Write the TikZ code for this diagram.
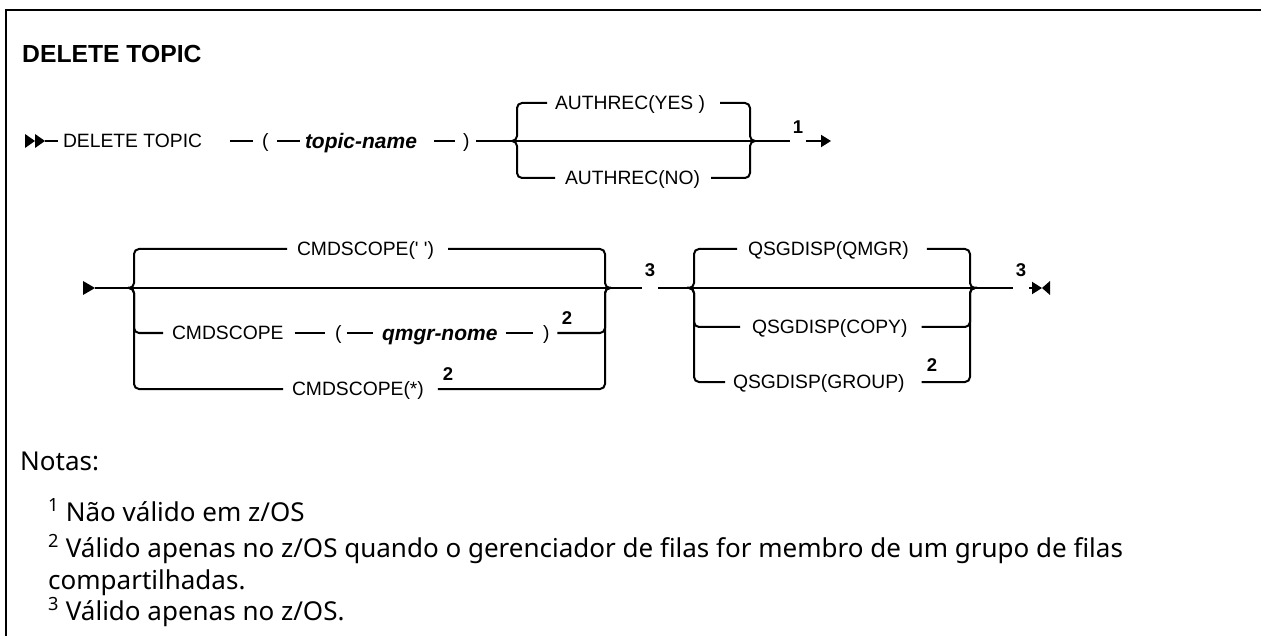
\documentclass[tikz,border=0pt]{standalone}
\usepackage{fontspec}
\setmainfont{Liberation Sans}
\newfontfamily\notefont{Noto Sans}
\usetikzlibrary{arrows.meta, positioning, calc}

\begin{document}
\begin{tikzpicture}[x=1pt, y=-1pt,
    rr/.style={line width=2pt, black},
    kw/.style={font=\fontsize{19.3}{23}\selectfont, anchor=west, inner sep=0pt, outer sep=0pt, text height=13.8pt, text depth=0pt},
    var/.style={kw, font=\fontsize{21}{25}\selectfont\bfseries\itshape, text height=15pt},
    fn/.style={font=\fontsize{18.5}{21}\selectfont\bfseries, inner xsep=3pt, inner ysep=0pt},
    note/.style={font=\notefont\fontsize{26}{31}\selectfont, anchor=base west, inner sep=0pt},
    tipR/.style={-{Triangle[length=10pt, width=12pt]}}
]

% ---------------- canvas and frame ----------------
\useasboundingbox (0,0) rectangle (1261,636);
\fill[white] (0,0) rectangle (1261,636);
\draw[line width=2.5pt] (6,636) -- (6,10) -- (1261,10);

\node[font=\fontsize{24.7}{30}\selectfont\bfseries, anchor=base west, inner sep=0pt] (title) at (22,63) {DELETE TOPIC};

% ================= row 1 =================
\coordinate (s1) at (25,141);
\coordinate (s1e) at (45,141);
\fill (s1) ++(0,-7) -- ++(10,7) -- ++(-10,7) -- cycle;
\fill (s1) ++(10,-7) -- ++(10,7) -- ++(-10,7) -- cycle;

\node[kw] (dt) at (63,141) {DELETE TOPIC};
\node[kw] (lp1) at (262,141) {(};
\node[var] (tn) at (305,141) {topic-name};
\node[kw] (rp1) at (463,141) {)};

\draw[rr, shorten >=5pt] (s1e) -- (dt.west);
\draw[rr, shorten <=28pt, shorten >=9pt] (dt.east) -- (lp1.west);
\draw[rr, shorten <=9pt, shorten >=5pt] (lp1.east) -- (tn.west);
\draw[rr, shorten <=17pt, shorten >=8pt] (tn.east) -- (rp1.west);

% authrec choice
\coordinate (b1l) at (512,141);
\coordinate (b1r) at (755,141);
\node[kw] (ay) at (555,103) {AUTHREC(YES )};
\node[kw] (an) at (565,178) {AUTHREC(NO)};

\draw[rr, shorten <=7pt] (rp1.east) -- (b1l) -- (b1r);
\draw[rr, rounded corners=5pt, shorten >=8pt] (b1l) -| (517,103) -- (ay.west);
\draw[rr, rounded corners=5pt, shorten <=15pt] (ay.east) -| (750,141) -- (b1r);
\draw[rr, rounded corners=5pt, shorten >=10pt] (b1l) -| (517,178) -- (an.west);
\draw[rr, rounded corners=5pt, shorten <=11pt] (an.east) -| (750,141) -- (b1r);

\node[fn] (f1) at (798,127) {1};
\coordinate (e1) at (831,141);
\draw[rr] (b1r) -- (b1r -| f1.west);
\draw[rr, tipR] (b1r -| f1.east) -- (e1);

% ================= row 2 =================
\coordinate (s2) at (83,288);
\coordinate (s2e) at (95,288);
\fill (s2) ++(0,-7) -- ++(12,7) -- ++(-12,7) -- cycle;

% cmdscope choice
\coordinate (b2l) at (128,288);
\coordinate (b2r) at (611,288);
\node[kw] (cq) at (297,249) {CMDSCOPE(\textquotesingle\ \textquotesingle)};
\node[kw] (cm) at (172,333) {CMDSCOPE};
\node[kw] (lp2) at (335,333) {(};
\node[var] (qn) at (382,333) {qmgr-nome};
\node[kw] (rp2) at (543,333) {)};
\node[kw] (cs) at (292,389) {CMDSCOPE(*)};

\draw[rr] (s2e) -- (b2l) -- (b2r);
\draw[rr, rounded corners=5pt, shorten >=10pt] (b2l) -| (134,249) -- (cq.west);
\draw[rr, rounded corners=5pt, shorten <=14pt] (cq.east) -| (605,288) -- (b2r);
\draw[rr, rounded corners=5pt, shorten >=9pt] (b2l) -| (134,333) -- (cm.west);
\draw[rr, shorten <=11pt, shorten >=10pt] (cm.east) -- (lp2.west);
\draw[rr, shorten <=6pt, shorten >=9pt] (lp2.east) -- (qn.west);
\draw[rr, shorten <=8pt, shorten >=10pt] (qn.east) -- (rp2.west);
\draw[rr, rounded corners=5pt, shorten <=8pt] (rp2.east) -| (605,288) -- (b2r);
\draw[rr, rounded corners=5pt, shorten >=9pt] (b2l) -| (134,389) -- (cs.west);
\draw[rr, rounded corners=5pt, shorten <=14pt] (cs.east) -| (605,288) -- (b2r);
\node[fn] (f2a) at (567,318) {2};
\node[fn] (f2b) at (448,374) {2};

\node[fn] (f3a) at (650,270) {3};

% qsgdisp choice
\coordinate (b3l) at (687,288);
\coordinate (b3r) at (977,288);
\node[kw] (qm) at (748,249) {QSGDISP(QMGR)};
\node[kw] (qc) at (752,327) {QSGDISP(COPY)};
\node[kw] (qg) at (733,382) {QSGDISP(GROUP)};

\draw[rr] (b2r) -- (b2r -| f3a.west);
\draw[rr] (b2r -| f3a.east) -- (b3l) -- (b3r);
\draw[rr, rounded corners=5pt, shorten >=11pt] (b3l) -| (694,249) -- (qm.west);
\draw[rr, rounded corners=5pt, shorten <=18pt] (qm.east) -| (970,288) -- (b3r);
\draw[rr, rounded corners=5pt, shorten >=12pt] (b3l) -| (694,327) -- (qc.west);
\draw[rr, rounded corners=5pt, shorten <=14pt] (qc.east) -| (970,288) -- (b3r);
\draw[rr, rounded corners=5pt, shorten >=8pt] (b3l) -| (694,382) -- (qg.west);
\draw[rr, rounded corners=5pt, shorten <=17pt] (qg.east) -| (970,288) -- (b3r);
\node[fn] (f2c) at (932,365) {2};

\node[fn] (f3b) at (1021,270) {3};
\coordinate (e2) at (1042,288);
\draw[rr] (b3r) -- (b3r -| f3b.west);
\draw[rr, tipR] (b3r -| f3b.east) -- (e2);
\fill (e2) -- ++(8,-7) -- ++(0,14) -- cycle;

% ================= notes =================
\node[note] (nt) at (20,470) {Notas:};
\node[note] (n1) at (48,521) {\textsuperscript{1} Não válido em z/OS};
\node[note] (n2) at (48,557) {\textsuperscript{2} Válido apenas no z/OS quando o gerenciador de filas for membro de um grupo de filas};
\node[note] (n2b) at (48,589) {compartilhadas.};
\node[note] (n3) at (48,620) {\textsuperscript{3} Válido apenas no z/OS.};

\end{tikzpicture}
\end{document}
